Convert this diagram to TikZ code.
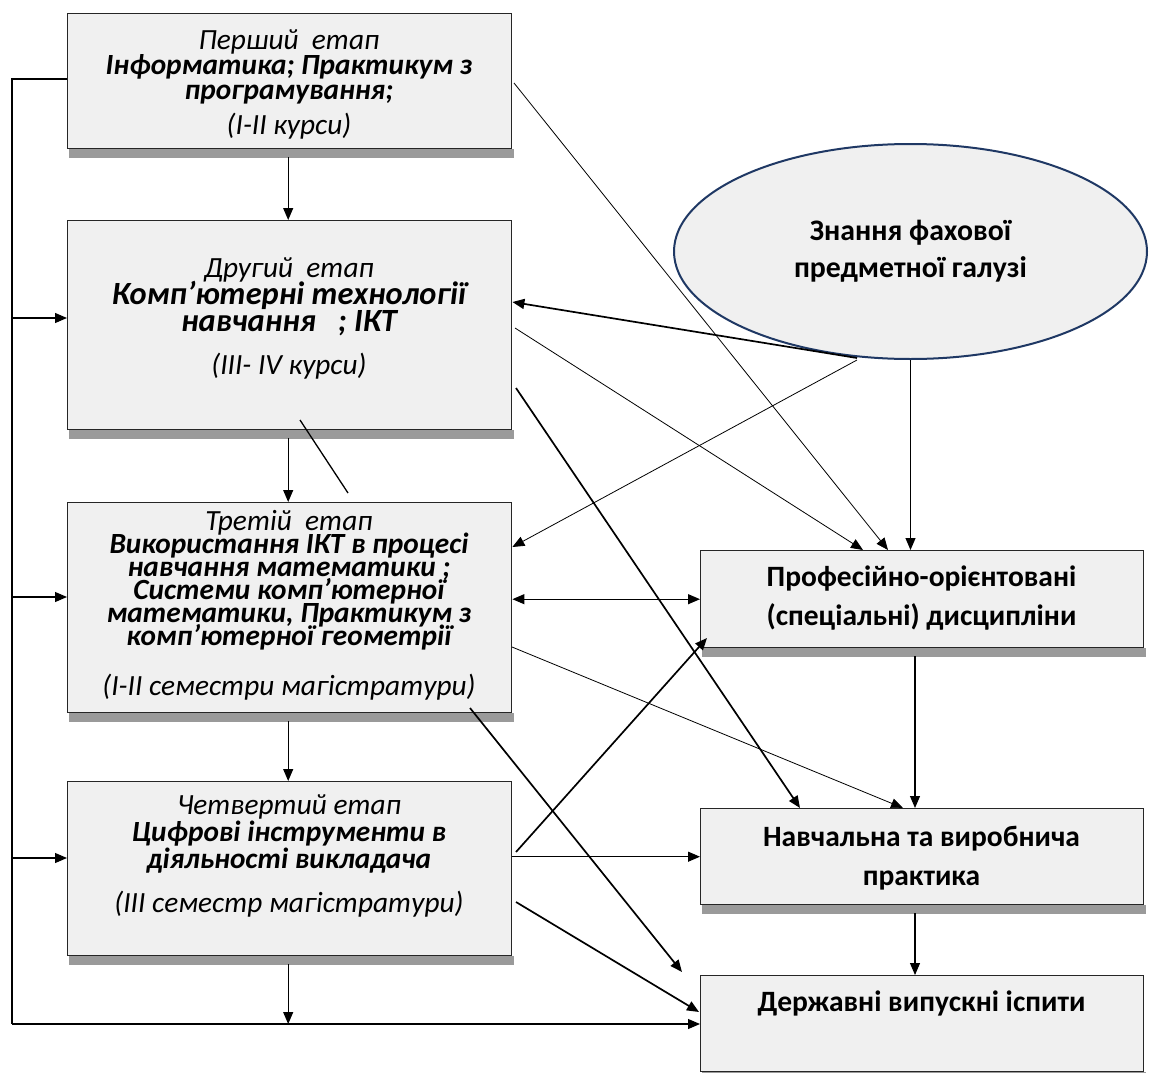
\documentclass[tikz,border=0pt]{standalone}
\usepackage{fontspec}
\setmainfont{Carlito}
\usetikzlibrary{arrows.meta,shapes.geometric,calc,backgrounds}
\definecolor{boxfill}{HTML}{F0F0F0}
\definecolor{shadowgray}{HTML}{9A9A9A}
\definecolor{ellline}{HTML}{1F3864}
\setlength{\lineskiplimit}{-100pt}
\begin{document}
\begin{tikzpicture}[x=1pt,y=-1pt,
  box/.style={draw=black!85, line width=1.4pt, fill=boxfill, anchor=north west, inner sep=0pt},
  shadowbox/.style={fill=shadowgray},
  stagetext/.style={align=center, inner sep=0pt, font=\fontsize{29.3}{#1}\selectfont},
  righttext/.style={align=center, inner sep=0pt, font=\fontsize{29.5}{39}\selectfont\bfseries},
  thin/.style={line width=0.8pt},
  bus/.style={line width=1.1pt},
  thickl/.style={line width=1.7pt},
  tip/.style={-{Triangle[length=12pt,width=10pt]}},
  tipb/.style={{Triangle[length=12pt,width=10pt]}-{Triangle[length=12pt,width=10pt]}}
]
\useasboundingbox (0,0) rectangle (1149,1073);

% stage boxes
\node[box, minimum width=444pt, minimum height=135pt] (s1) at (67,13) {};
\node[box, minimum width=444pt, minimum height=209pt] (s2) at (67,220) {};
\node[box, minimum width=444pt, minimum height=210pt] (s3) at (67,502) {};
\node[box, minimum width=444pt, minimum height=174pt] (s4) at (67,781) {};
% right boxes
\node[box, minimum width=443pt, minimum height=97pt] (p1) at (700,550) {};
\node[box, minimum width=443pt, minimum height=96pt] (p2) at (700,808) {};
\node[box, minimum width=443pt, minimum height=96pt] (p3) at (700,975) {};

% shadows
\begin{scope}[on background layer]
\foreach \b in {s1,s2,s3,s4,p1,p2,p3}
  \fill[shadowbox] ([xshift=1.5pt]\b.south west) rectangle ([xshift=1.5pt,yshift=-9pt]\b.south east);
\end{scope}

% ellipse
\node[ellipse, draw=ellline, line width=2pt, fill=boxfill, minimum width=473pt, minimum height=215pt,
      inner sep=0pt, align=center, font=\fontsize{29.8}{37}\selectfont\bfseries]
      (el) at (910.5,251.5) {Знання фахової\\предметної галузі};

% texts
\node[stagetext=25] (t1) at (289,84)
  {{\itshape Перший\ \ етап}\\
   {\bfseries\itshape Інформатика; Практикум з}\\
   {\bfseries\itshape програмування;}\\[10pt]
   {\itshape (I-II курси)}};
\node[stagetext=27] (t2) at (289,318.5)
  {{\itshape Другий\ \ етап}\\
   {\fontsize{32.4}{27}\selectfont\bfseries\itshape Комп’ютерні технології}\\
   {\fontsize{32.4}{27}\selectfont\bfseries\itshape навчання\ \ \ ; ІКТ}\\[16pt]
   {\itshape (III- IV курси)}};
\node[stagetext=23] (t3) at (289,605)
  {{\itshape Третій\ \ етап}\\
   {\bfseries\itshape Використання ІКТ в процесі}\\
   {\bfseries\itshape навчання математики ;}\\
   {\bfseries\itshape Системи комп’ютерної}\\
   {\bfseries\itshape математики, Практикум з}\\
   {\bfseries\itshape комп’ютерної геометрії}\\[27pt]
   {\itshape (I-II семестри магістратури)}};
\node[stagetext=27] (t4) at (289,855.5)
  {{\itshape Четвертий етап}\\
   {\bfseries\itshape Цифрові інструменти в}\\
   {\bfseries\itshape діяльності викладача}\\[17pt]
   {\itshape (III семестр магістратури)}};
\node[righttext] (tp1) at (921.5,598.5) {Професійно-орієнтовані\\(спеціальні) дисципліни};
\node[righttext] (tp2) at (921.5,858.5) {Навчальна та виробнича\\практика};
\node[righttext] (tp3) at (921.5,1003) {Державні випускні іспити};

% coordinates
\coordinate (busT) at (12,79);
\coordinate (busB) at (12,1024);
\coordinate (b2) at (12,318);
\coordinate (b3) at (12,597);
\coordinate (b4) at (12,858);

% left bus
\draw[bus] (s1.west |- busT) -- (busT) -- (busB);
\draw[bus,tip] (busB) -- (p3.west |- busB);
\draw[bus,tip] (b2) -- (s2.west |- b2);
\draw[bus,tip] (b3) -- (s3.west |- b3);
\draw[bus,tip] (b4) -- (s4.west |- b4);

% vertical chain
\draw[bus,tip] ([xshift=-1.5pt,yshift=-8pt]s1.south) -- ([xshift=-1.5pt]s2.north);
\draw[bus,tip] ([xshift=-1.5pt,yshift=-8pt]s2.south) -- ([xshift=-1.5pt]s3.north);
\draw[bus,tip] ([xshift=-1.5pt,yshift=-8pt]s3.south) -- ([xshift=-1.5pt]s4.north);
\draw[bus,tip] ([xshift=-1.5pt,yshift=-8pt]s4.south) -- ([xshift=-1.5pt]s4.south |- busB);

% right chain
\coordinate (rx) at (915,0);
\draw[bus,tip] (rx |- p1.south) ++(0,8) -- (rx |- p2.north);
\draw[bus,tip] (rx |- p2.south) ++(0,8) -- (rx |- p3.north);
\draw[bus,tip] (el.south) -- (el.south |- p1.north);

% from ellipse
\coordinate (e1) at (857,358);
\coordinate (e2) at (857,360);
\draw[thickl,tip] (e1) -- (s2.east |- 0,302);
\draw[thin,tip] (e2) -- (s3.east |- 0,547);

% from stage 1 and 2
\coordinate (a1) at (514,83);
\coordinate (a2) at (515,328);
\coordinate (a3) at (516,388);
\draw[thin,tip] (a1) -- (888,0 |- p1.north);
\draw[thin,tip] (a2) -- (863,0 |- p1.north);
\draw[thickl,tip] (a3) -- (800,0 |- p2.north);
\coordinate (g1) at (300,420);
\coordinate (g2) at (348,493);
\draw[line width=1.3pt] (g1) -- (g2);

% from stage 3
\draw[bus,tipb] (s3.east |- p1.west) -- (p1.west);
\coordinate (c1) at (512,647);
\coordinate (c2) at (470,708);
\coordinate (c2e) at (682,972);
\draw[thin,tip] (c1) -- (903,0 |- p2.north);
\draw[thickl,tip] (c2) -- (c2e);

% from stage 4
\coordinate (d1) at (516,852);
\coordinate (d1e) at (707,638);
\coordinate (d2) at (516,902);
\coordinate (d2e) at (699,1012);
\draw[thickl,tip] (d1) -- (d1e);
\draw[bus,tip] (s4.east |- p2.west) -- (p2.west);
\draw[thickl,tip] (d2) -- (d2e);
\end{tikzpicture}
\end{document}
